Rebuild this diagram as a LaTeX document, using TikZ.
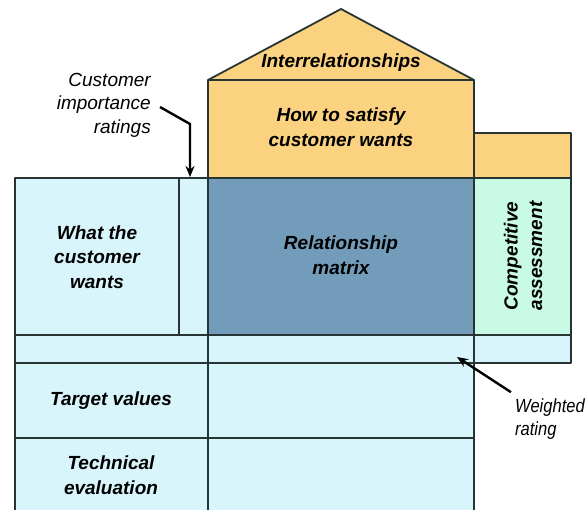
\documentclass[tikz,border=0pt]{standalone}
\usepackage{fontspec}
\setmainfont{Liberation Sans}
\newfontfamily\narrowfont[FakeStretch=0.87]{Liberation Sans}
\usetikzlibrary{arrows.meta}
\definecolor{roofc}{RGB}{250,210,128}
\definecolor{matc}{RGB}{114,156,186}
\definecolor{cyanc}{RGB}{216,245,252}
\definecolor{mintc}{RGB}{200,250,230}
\definecolor{edgec}{RGB}{40,52,52}
\tikzset{
  part/.style={draw=edgec, line width=1.8pt, line join=round},
  lbl/.style={font=\fontsize{19}{24.5}\selectfont\bfseries\itshape, align=center, text=black, inner sep=0pt},
  note/.style={font=\fontsize{19}{23.5}\selectfont\itshape, text=black, inner sep=0pt},
  narrownote/.style={font=\narrowfont\fontsize{19}{23.5}\selectfont\itshape, text=black, inner sep=0pt},
  pointer/.style={line width=2.4pt, draw=black, -{Stealth[length=11pt,width=9pt]}}
}
\begin{document}
\begin{tikzpicture}[x=1pt,y=-1pt]
\useasboundingbox (0,0) rectangle (587,510);
% roof and how
\filldraw[part, fill=roofc] (208,178) -- (208,80) -- (341,9) -- (474,80) -- (474,178) -- cycle;
\draw[part] (208,80) -- (474,80);
\filldraw[part, fill=roofc] (474,133) rectangle (571,178);
% left block
\filldraw[part, fill=cyanc] (15,178) rectangle (208,335);
\draw[part] (179,178) -- (179,335);
% matrix
\filldraw[part, fill=matc] (208,178) rectangle (474,335);
% competitive
\filldraw[part, fill=mintc] (474,178) rectangle (571,335);
% weighted row
\filldraw[part, fill=cyanc] (15,335) rectangle (474,363);
\filldraw[part, fill=cyanc] (474,335) rectangle (571,363);
% lower block
\filldraw[part, fill=cyanc] (15,363) rectangle (474,520);
\draw[part] (208,335) -- (208,520);
\draw[part] (15,438) -- (474,438);
% texts
\node[lbl] (inter) at (341,63) {Interrelationships};
\node[lbl] (how) at (341,127) {How to satisfy\\customer wants};
\node[lbl] (what) at (97,257) {What the\\customer\\wants};
\node[lbl] (rel) at (341,255) {Relationship\\matrix};
\node[lbl, rotate=90] (comp) at (523,256) {Competitive\\assessment};
\node[lbl] (target) at (111,401) {Target values};
\node[lbl] (tech) at (111,475) {Technical\\evaluation};
\node[note, align=right, anchor=east] (cir) at (151,105) {Customer\\importance\\ratings};
\node[narrownote, align=left, anchor=west] (wr) at (515,419) {Weighted\\rating};
% pointers
\coordinate (cirtip) at (190,177);
\coordinate (wrtip) at (457,357);
\draw[pointer] (cir.east |- 0,107) ++(9,0) -- (190,124) -- (cirtip);
\draw[pointer] (wr.north west) ++(-4,-6) -- (wrtip);
\end{tikzpicture}
\end{document}
